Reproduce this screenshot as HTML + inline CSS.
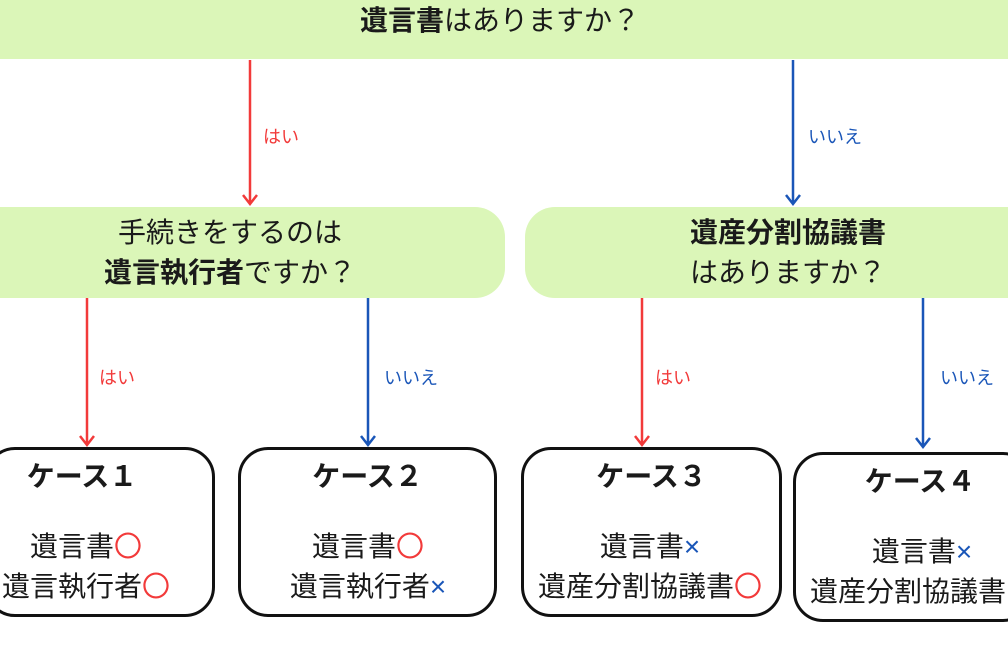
<!DOCTYPE html>
<html><head><meta charset="utf-8"><style>
body{margin:0;width:1008px;height:654px;position:relative;overflow:hidden;background:#fff;font-family:"Liberation Sans","Noto Sans CJK JP",sans-serif;color:#1a1a1a}
.g{position:absolute;background:#dbf6b8}
.t{position:absolute;text-align:center;white-space:nowrap;font-size:28px;line-height:40px;font-weight:normal}
.b{position:absolute;border:3px solid #111;border-radius:30px;box-sizing:border-box;background:#fff}
.lab{position:absolute;font-size:18px}
.r{color:#f23a3a}.u{color:#1a56b8}
b{font-weight:bold}
</style></head><body>
<div class="g" style="left:0;top:0;width:1008px;height:59px"></div>
<div class="t" style="left:200px;top:1px;width:600px"><b>遺言書</b>はありますか？</div>
<div class="g" style="left:-30px;top:207px;width:535px;height:91px;border-radius:30px"></div>
<div class="t" style="left:30px;top:213px;width:400px">手続きをするのは<br><b>遺言執行者</b>ですか？</div>
<div class="g" style="left:525px;top:207px;width:520px;height:91px;border-radius:30px"></div>
<div class="t" style="left:588px;top:213px;width:400px"><b>遺産分割協議書</b><br>はありますか？</div>
<svg style="position:absolute;left:0;top:0" width="1008" height="654">
<g stroke-width="2.5" fill="none">
<path d="M250 60V203M243 195l7 9 7-9" stroke="#f23a3a"/>
<path d="M793 60V203M786 195l7 9 7-9" stroke="#1a56b8"/>
<path d="M87 298V444M80 436l7 9 7-9" stroke="#f23a3a"/>
<path d="M368 298V444M361 436l7 9 7-9" stroke="#1a56b8"/>
<path d="M642 298V444M635 436l7 9 7-9" stroke="#f23a3a"/>
<path d="M923 298V446M916 438l7 9 7-9" stroke="#1a56b8"/>
</g></svg>
<div class="lab r" style="left:263px;top:123px">はい</div>
<div class="lab u" style="left:808px;top:123px">いいえ</div>
<div class="lab r" style="left:99px;top:364px">はい</div>
<div class="lab u" style="left:384px;top:364px">いいえ</div>
<div class="lab r" style="left:655px;top:364px">はい</div>
<div class="lab u" style="left:940px;top:364px">いいえ</div>
<div class="b" style="left:-15px;top:447px;width:230px;height:170px"></div>
<div class="b" style="left:238px;top:447px;width:259px;height:170px"></div>
<div class="b" style="left:521px;top:447px;width:261px;height:170px"></div>
<div class="b" style="left:793px;top:452px;width:240px;height:170px"></div>
<div class="t" style="left:-18px;top:457px;width:200px"><b>ケース１</b></div>
<div class="t" style="left:238px;top:457px;width:259px"><b>ケース２</b></div>
<div class="t" style="left:521px;top:457px;width:261px"><b>ケース３</b></div>
<div class="t" style="left:770px;top:462px;width:300px"><b>ケース４</b></div>
<div class="t" style="left:-64px;top:527px;width:300px">遺言書<span class="r">〇</span><br>遺言執行者<span class="r">〇</span></div>
<div class="t" style="left:218px;top:527px;width:300px">遺言書<span class="r">〇</span><br>遺言執行者<span class="u">×</span></div>
<div class="t" style="left:500px;top:527px;width:300px">遺言書<span class="u">×</span><br>遺産分割協議書<span class="r">〇</span></div>
<div class="t" style="left:772px;top:532px;width:300px">遺言書<span class="u">×</span></div>
<div class="t" style="left:810px;top:572px;text-align:left">遺産分割協議書</div>
</body></html>
